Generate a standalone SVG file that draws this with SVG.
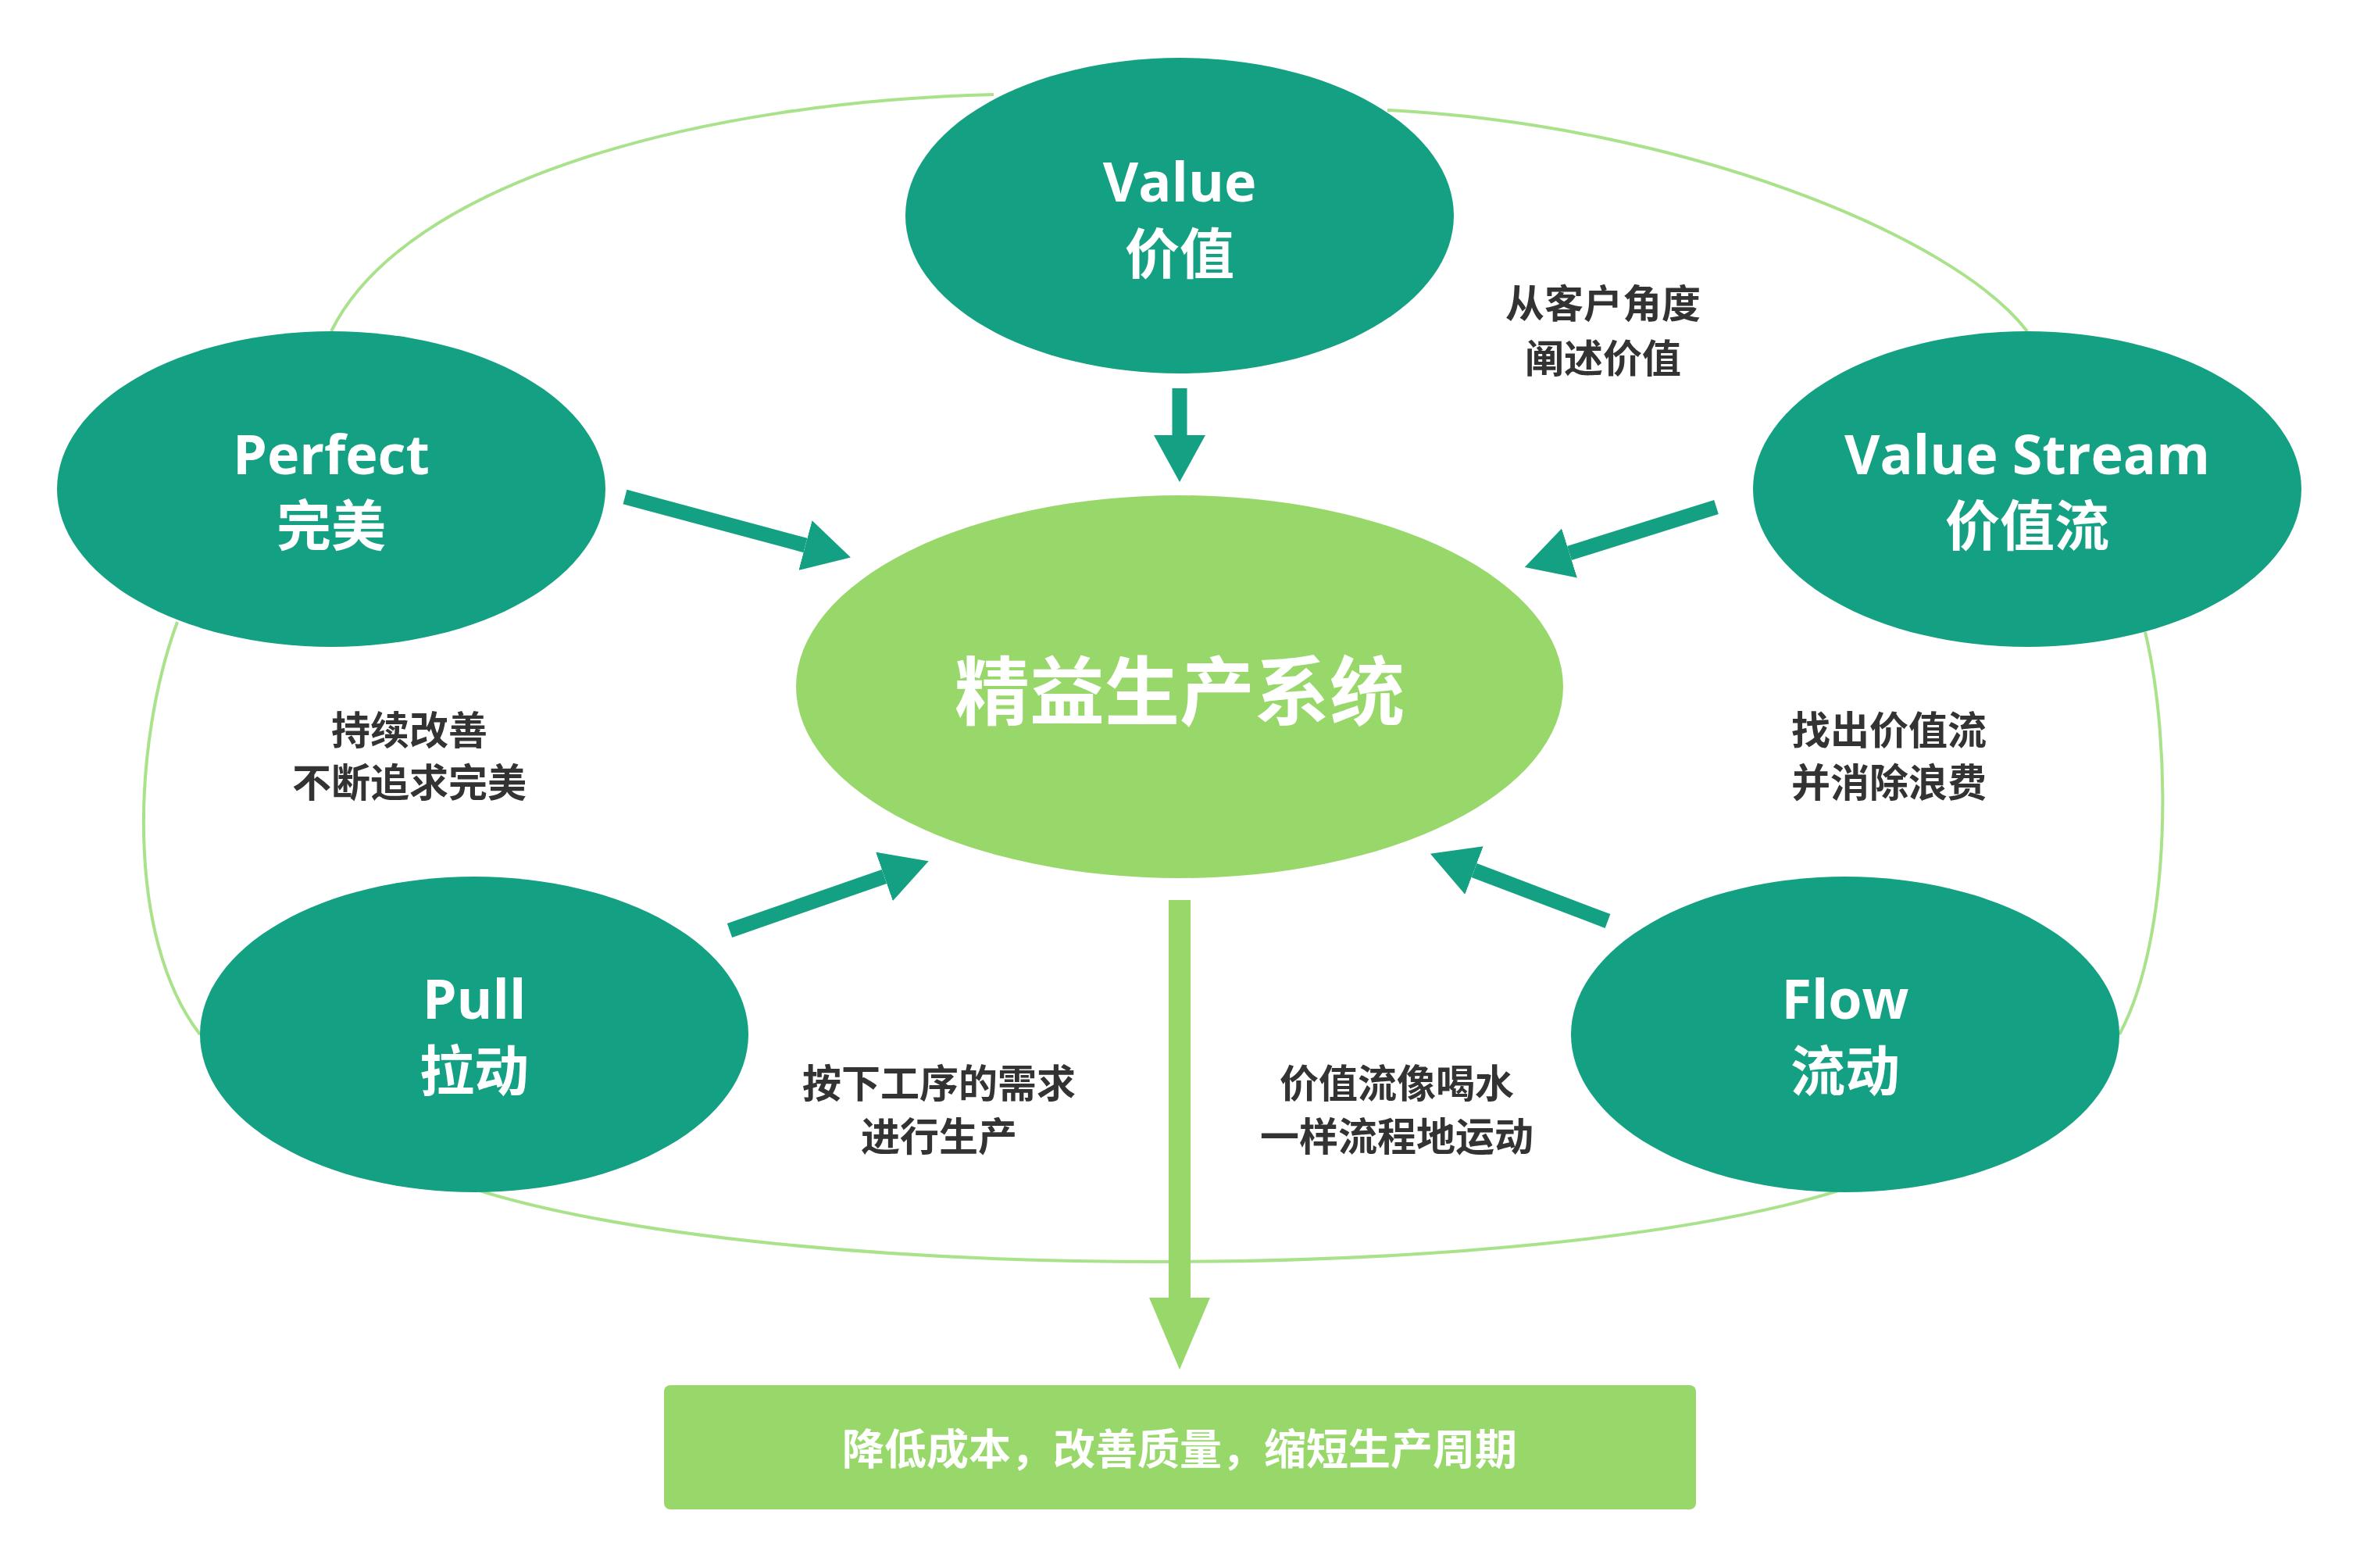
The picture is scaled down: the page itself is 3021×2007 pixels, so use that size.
<svg xmlns="http://www.w3.org/2000/svg" width="3021" height="2007" viewBox="0 0 3021 2007">
<style>
.ring{fill:none;stroke:#a9e28b;stroke-width:4}
.node{fill:#14a082}
.nt{font-family:"Open Sans","Noto Sans CJK SC",sans-serif;font-weight:bold;font-size:70px;fill:#fff;text-anchor:middle;dominant-baseline:central}
.lb{font-family:"Noto Sans CJK SC",sans-serif;font-weight:bold;font-size:50px;fill:#333;text-anchor:middle;dominant-baseline:central}
.ar{stroke:#14a082;stroke-width:19;fill:none}
</style>
<defs>
<marker id="h" markerUnits="userSpaceOnUse" viewBox="0 0 60 66" markerWidth="60" markerHeight="66" refX="0" refY="33" orient="auto"><path d="M0,0 L60,33 L0,66 z" fill="#14a082"/></marker>
<marker id="hb" markerUnits="userSpaceOnUse" viewBox="0 0 92 78" markerWidth="92" markerHeight="78" refX="0" refY="39" orient="auto"><path d="M0,0 L92,39 L0,78 z" fill="#98d86a"/></marker>
</defs>
<rect width="3021" height="2007" fill="#fff"/>
<g id="rings">
<path class="ring" d="M1272,121 C900,130 520,230 424,424"/>
<path class="ring" d="M1776,141 C2150,160 2500,300 2595,424"/>
<path class="ring" d="M227,796 C170,950 160,1200 256,1324"/>
<path class="ring" d="M2746,809 C2780,950 2780,1200 2713,1324"/>
<path class="ring" d="M607,1522 C1000,1646 1970,1646 2360,1522"/>
</g>
<g id="connectors">
<line class="ar" x1="1510" y1="497" x2="1510" y2="557" marker-end="url(#h)"/>
<line class="ar" x1="800" y1="636" x2="1031" y2="698" marker-end="url(#h)"/>
<line class="ar" x1="2197" y1="649" x2="2009" y2="708" marker-end="url(#h)"/>
<line class="ar" x1="934" y1="1191" x2="1132" y2="1122" marker-end="url(#h)"/>
<line class="ar" x1="2058" y1="1179" x2="1887" y2="1114" marker-end="url(#h)"/>
<line x1="1510" y1="1152" x2="1510" y2="1661" stroke="#98d86a" stroke-width="28" marker-end="url(#hb)"/>
</g>
<g id="value"><ellipse class="node" cx="1510" cy="276" rx="351" ry="202"/><text class="nt" x="1510" y="231">Value</text><text class="nt" x="1510" y="324">价值</text></g>
<g id="perfect"><ellipse class="node" cx="424" cy="626" rx="351" ry="202"/><text class="nt" x="424" y="580">Perfect</text><text class="nt" x="424" y="672">完美</text></g>
<g id="valuestream"><ellipse class="node" cx="2595" cy="626" rx="351" ry="202"/><text class="nt" x="2595" y="580">Value Stream</text><text class="nt" x="2595" y="672">价值流</text></g>
<g id="pull"><ellipse class="node" cx="607" cy="1324" rx="351" ry="202"/><text class="nt" x="607" y="1277">Pull</text><text class="nt" x="607" y="1370">拉动</text></g>
<g id="flow"><ellipse class="node" cx="2362" cy="1324" rx="351" ry="202"/><text class="nt" x="2362" y="1277">Flow</text><text class="nt" x="2362" y="1370">流动</text></g>
<g id="center"><ellipse cx="1510" cy="879" rx="491" ry="245" fill="#98d86a"/><text class="nt" x="1510" y="882" font-size="96" style="font-size:96px">精益生产系统</text></g>
<g id="result"><rect x="850" y="1773" width="1321" height="159" rx="8" fill="#98d86a"/><text class="nt" x="1510" y="1854" style="font-size:54px">降低成本，改善质量，缩短生产周期</text></g>
<g id="labels">
<text class="lb" x="2052" y="385">从客户角度</text><text class="lb" x="2052" y="455">阐述价值</text>
<text class="lb" x="524" y="931">持续改善</text><text class="lb" x="524" y="998">不断追求完美</text>
<text class="lb" x="2418" y="931">找出价值流</text><text class="lb" x="2418" y="998">并消除浪费</text>
<text class="lb" x="1202" y="1383">按下工序的需求</text><text class="lb" x="1202" y="1451">进行生产</text>
<text class="lb" x="1788" y="1383">价值流像喝水</text><text class="lb" x="1788" y="1451">一样流程地运动</text>
</g>
</svg>
